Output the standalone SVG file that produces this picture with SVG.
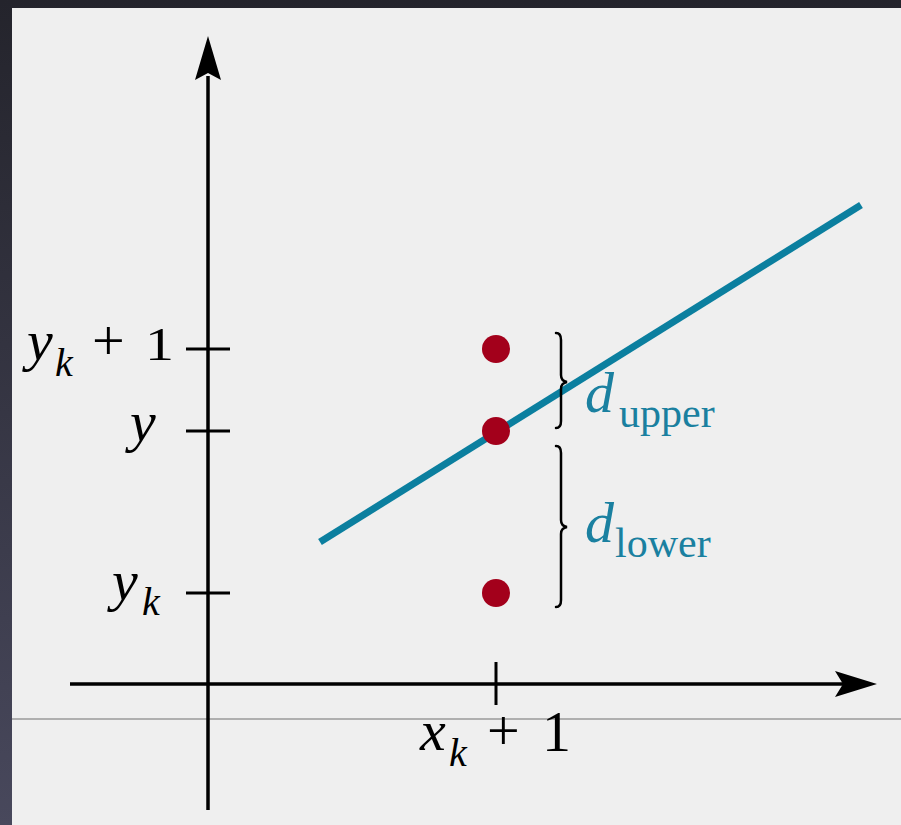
<svg xmlns="http://www.w3.org/2000/svg" width="901" height="825" viewBox="0 0 901 825">
<defs>
<linearGradient id="side" x1="0" y1="0" x2="0" y2="1">
<stop offset="0" stop-color="#24242c"/>
<stop offset="1" stop-color="#48485c"/>
</linearGradient>
<style>
.ax{stroke:#000;stroke-width:3.5;fill:none}
.tick{stroke:#000;stroke-width:3;fill:none}
.brace{stroke:#000;stroke-width:2.5;fill:none;stroke-linecap:round}
.dot{fill:#a3001b}
.lbl{font-family:"Liberation Serif","Times New Roman",serif;font-size:58px;fill:#000}
.it{font-style:italic}
.sub{font-size:40px}
.dsub{font-size:42px}
.blue{fill:#1a80a0}
</style>
</defs>
<rect x="0" y="0" width="901" height="825" fill="url(#side)"/>
<rect x="12" y="8" width="889" height="817" fill="#efefef"/>
<line x1="12" y1="719" x2="901" y2="719" stroke="#9a9a9a" stroke-width="1.5"/>
<g id="connectors">
<line class="ax" x1="208" y1="810" x2="208" y2="76"/>
<path d="M208,36 L221,80 L208,73 L195,80 Z" fill="#000"/>
<line class="ax" x1="70" y1="684" x2="845" y2="684"/>
<path d="M877,684 L835,697 L843,684 L835,671 Z" fill="#000"/>
<line class="tick" x1="186" y1="349" x2="230" y2="349"/>
<line class="tick" x1="186" y1="431" x2="230" y2="431"/>
<line class="tick" x1="186" y1="593" x2="230" y2="593"/>
<line class="tick" x1="496" y1="662" x2="496" y2="705"/>
<line x1="320" y1="542" x2="861" y2="205" stroke="#0b7f9f" stroke-width="7"/>
<path class="brace" d="M556,333 Q561,333 561,340 L561,375 Q561,381 567,382 Q561,383 561,389 L561,421 Q561,428 556,428"/>
<path class="brace" d="M556,446 Q561,446 561,453 L561,520 Q561,526 567,527 Q561,528 561,534 L561,600 Q561,607 556,607"/>
</g>
<g id="dot-upper"><circle class="dot" cx="496" cy="349" r="14"/></g>
<g id="dot-mid"><circle class="dot" cx="496" cy="431" r="14"/></g>
<g id="dot-lower"><circle class="dot" cx="496" cy="593" r="14"/></g>
<g id="label-yk1">
<text class="lbl it" x="27" y="360">y</text>
<text class="lbl it sub" x="55" y="376">k</text>
<text class="lbl" x="92" y="360">+</text>
<text class="lbl" x="145" y="360" transform="translate(0,360) scale(1,0.8) translate(0,-360)">1</text>
</g>
<g id="label-y"><text class="lbl it" x="130" y="441">y</text></g>
<g id="label-yk">
<text class="lbl it" x="112" y="600">y</text>
<text class="lbl it sub" x="142" y="615">k</text>
</g>
<g id="label-xk1">
<text class="lbl it" x="420" y="750">x</text>
<text class="lbl it sub" x="449" y="766">k</text>
<text class="lbl" x="487" y="750">+</text>
<text class="lbl" x="542" y="751">1</text>
</g>
<g id="label-dupper">
<text class="lbl it blue" x="585" y="412">d</text>
<text class="lbl blue dsub" x="619" y="427">upper</text>
</g>
<g id="label-dlower">
<text class="lbl it blue" x="585" y="542">d</text>
<text class="lbl blue dsub" x="615" y="557">lower</text>
</g>
</svg>
